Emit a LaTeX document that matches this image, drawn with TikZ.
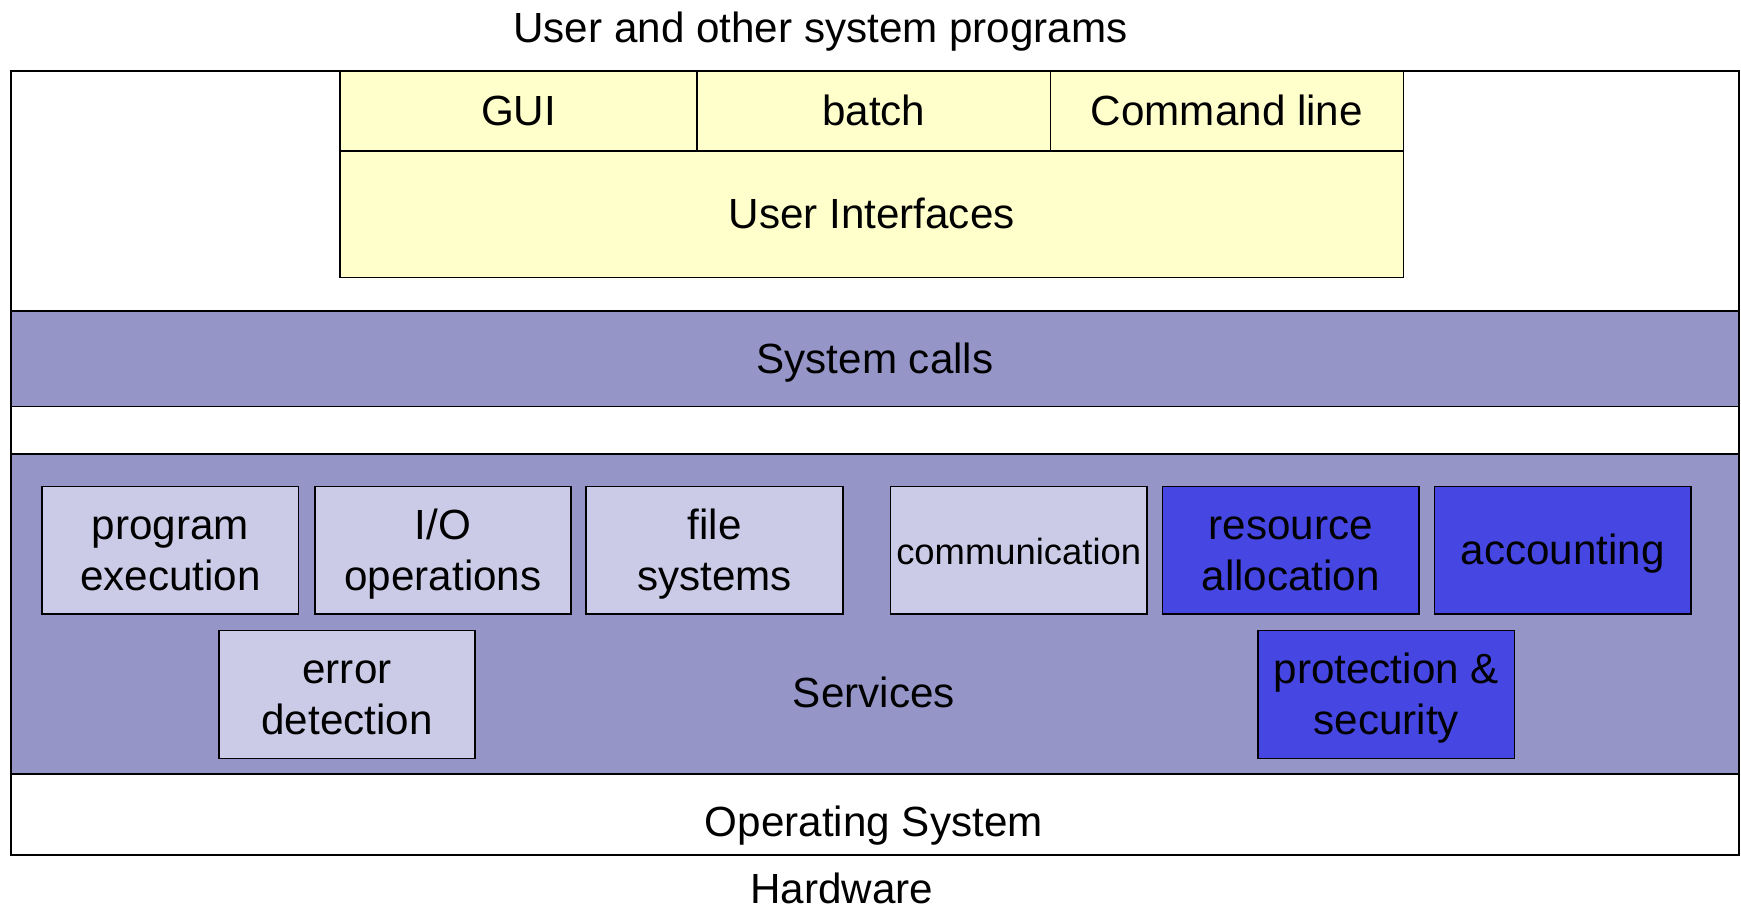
\documentclass[tikz,border=0pt]{standalone}
\usepackage{fontspec}
\setmainfont{Liberation Sans}
\definecolor{ylw}{RGB}{255,255,204}
\definecolor{band}{RGB}{149,149,200}
\definecolor{lite}{RGB}{203,203,231}
\definecolor{deep}{RGB}{70,70,226}
\newcommand\ls{\rule[-4pt]{0pt}{21pt}}
\begin{document}
\begin{tikzpicture}[x=0.5pt,y=-0.5pt,
  txt/.style={font=\fontsize{19pt}{23pt}\selectfont, align=center, inner sep=0pt},
  btxt/.style={font=\fontsize{19pt}{23pt}\selectfont, inner sep=0pt, anchor=base},
  cell/.style={txt, draw=black, line width=0.8pt, fill=ylw},
  svc/.style={txt, draw=black, line width=0.7pt, fill=lite, minimum width=115.5pt, minimum height=57.5pt},
  svcb/.style={svc, fill=deep},
  layer/.style={draw=black, line width=0.8pt, fill=band, minimum width=778pt, inner sep=0pt}]
\useasboundingbox (0,0) rectangle (1568,821);
% outer OS box
\node[draw=black, line width=0.9pt, fill=white, minimum width=778pt, minimum height=353pt, inner sep=0pt] (os) at (788,417) {};
% title
\node[btxt] (user) at (739,38) {User and other system programs};
% user interfaces
\node[cell, minimum width=479pt, minimum height=57pt] (ui) at (785,193) {\ls User Interfaces};
\node[cell, minimum width=161pt, minimum height=36pt] (gui) at (467,100) {\ls GUI};
\node[cell, minimum width=159pt, minimum height=36pt] (batch) at (787,100) {\ls batch};
\node[cell, minimum width=159pt, minimum height=36pt] (cmd) at (1105,100) {\ls Command line};
% system calls
\node[layer, minimum height=43pt, txt] (sc) at (788,323) {\ls System calls};
% services band
\node[layer, minimum height=144pt] (services) at (788,553) {};
\node[btxt] (servlbl) at (787,637) {Services};
% service boxes
\node[svc] (pe) at (153.5,495.5) {\ls program\\\ls execution};
\node[svc] (io) at (399,495.5) {\ls I/O\\\ls operations};
\node[svc] (fs) at (643.5,495.5) {\ls file\\\ls systems};
\node[svc, font=\fontsize{16.4pt}{20pt}\selectfont] (comm) at (917.5,495.5) {\ls communication};
\node[svcb] (ra) at (1162.5,495.5) {\ls resource\\\ls allocation};
\node[svcb] (acc) at (1407.5,495.5) {\ls accounting};
\node[svc] (ed) at (312.5,625.5) {\ls error\\\ls detection};
\node[svcb] (ps) at (1248.5,625.5) {\ls protection \&\\\ls security};
% labels
\node[btxt] (oslbl) at (787,753) {Operating System};
\node[btxt] (hw) at (758,814) {Hardware};
\end{tikzpicture}
\end{document}
